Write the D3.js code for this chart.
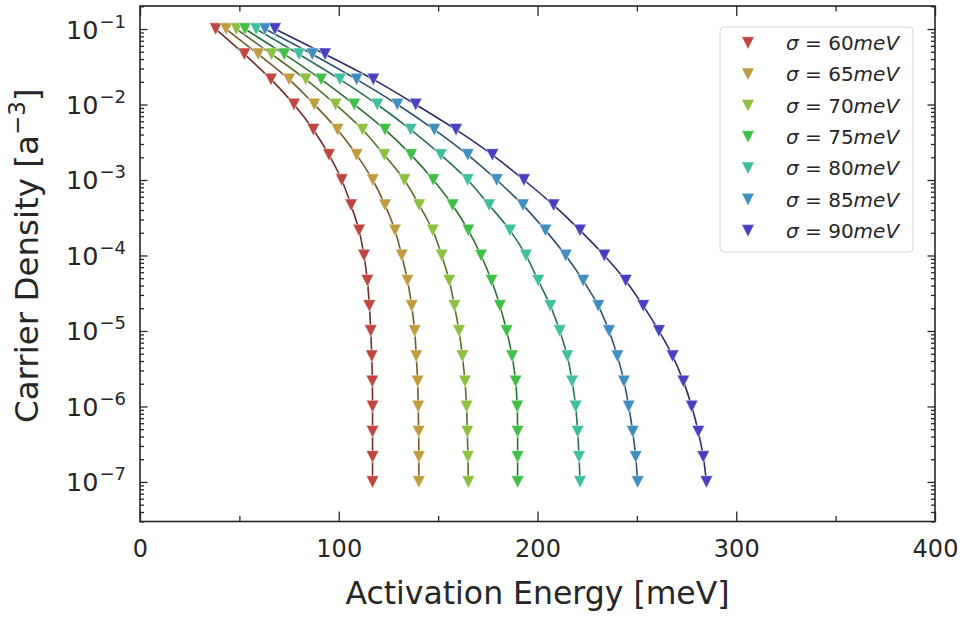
<!DOCTYPE html>
<html>
<head>
<meta charset="utf-8">
<script src="https://cdn.jsdelivr.net/npm/d3@7"></script>
<style>
  html, body { margin: 0; padding: 0; background: #fff; }
  svg { display: block; }
  text { font-family: "DejaVu Sans", sans-serif; fill: #262626; }
</style>
</head>
<body>
<svg id="chart" width="963" height="617"></svg>
<script>
// ---- data ----
const sigmas = [60, 65, 70, 75, 80, 85, 90];
const density = [1e-1, 4.64e-2, 2.15e-2, 1e-2, 4.64e-3, 2.15e-3, 1e-3, 4.64e-4, 2.15e-4,
                 1e-4, 4.64e-5, 2.15e-5, 1e-5, 4.64e-6, 2.15e-6, 1e-6, 4.64e-7, 2.15e-7, 1e-7];
const energy60 = [38.1, 52.5, 65.9, 77.5, 87.2, 95.1, 101.5, 106.2, 110.2, 112.7, 114.4, 115.4, 116.1, 116.6, 116.9, 117.0, 117.0, 117.0, 117.0];
const energy65 = [43.3, 59.5, 75.0, 87.7, 99.4, 109.0, 117.1, 123.3, 128.3, 131.7, 134.6, 136.7, 138.2, 139.0, 139.7, 140.0, 140.2, 140.3, 140.3];
const energy70 = [48.5, 66.2, 83.4, 98.4, 112.0, 122.9, 133.0, 140.5, 147.3, 151.8, 155.6, 158.2, 160.5, 162.2, 163.5, 164.3, 164.7, 165.0, 165.2];
const energy75 = [52.8, 72.6, 91.1, 107.8, 123.3, 136.4, 147.6, 157.3, 165.2, 171.6, 176.9, 181.1, 184.5, 187.2, 189.0, 189.8, 190.0, 190.0, 190.0];
const energy80 = [58.4, 80.0, 100.6, 119.4, 136.2, 151.4, 164.9, 175.7, 186.2, 194.2, 200.4, 206.5, 211.2, 215.0, 217.4, 219.2, 220.2, 220.9, 221.4];
const energy85 = [62.9, 86.7, 109.0, 129.5, 148.1, 164.9, 179.5, 192.7, 204.0, 214.2, 223.0, 230.6, 236.0, 240.2, 243.5, 245.9, 247.9, 249.4, 250.4];
const energy90 = [67.9, 93.1, 117.4, 138.7, 159.0, 177.3, 193.2, 208.1, 221.4, 233.6, 244.4, 253.2, 261.1, 268.0, 273.4, 277.6, 280.9, 283.4, 285.0];
const energies = [energy60, energy65, energy70, energy75, energy80, energy85, energy90];
const markerColors = ["#bf4640", "#bf9c40", "#8dbf40", "#40bf48", "#40bf9c", "#408dbf", "#4840bf"];
const xTicks = [0, 100, 200, 300, 400];
const xMinorTicks = [50, 150, 250, 350];
const yTickExps = [-1, -2, -3, -4, -5, -6, -7];

// ---- layout ----
const L = 140, R = 935, T = 6, B = 521.5;
const svg = d3.select("#chart");

const x = d3.scaleLinear().domain([0, 400]).range([L, R]);
const y = d3.scaleLog().domain([Math.pow(10, -7.524), Math.pow(10, -0.695)]).range([B, T]);

// minor y ticks
const yMinor = [];
for (let e = -8; e <= 0; e++) {
  for (let m = 2; m <= 9; m++) {
    const v = m * Math.pow(10, e);
    if (v >= y.domain()[0] && v <= y.domain()[1]) yMinor.push(v);
  }
}
const yMajor = yTickExps.map(e => Math.pow(10, e));

const axisColor = "#262626";
const triPath = "M0,6.2L-6.3,-6.2L6.3,-6.2Z";

// clip for lines/markers
svg.append("defs").append("clipPath").attr("id", "clip")
  .append("rect").attr("x", L).attr("y", T).attr("width", R - L).attr("height", B - T);

// ---- series ----
const line = d3.line()
  .x(d => x(d[0]))
  .y(d => y(d[1]))
  .curve(d3.curveCatmullRom.alpha(0.5));

const plot = svg.append("g").attr("clip-path", "url(#clip)");

sigmas.forEach((s, i) => {
  const pts = energies[i].map((e, k) => [e, density[k]]);
  const base = d3.hsl(markerColors[i]);
  const dark = d3.hsl(base.h, 0.45, 0.3);
  plot.append("path")
    .attr("d", line(pts))
    .attr("fill", "none")
    .attr("stroke", dark.formatHex())
    .attr("stroke-width", 1.6);
});
sigmas.forEach((s, i) => {
  const pts = energies[i].map((e, k) => [e, density[k]]);
  plot.append("g").selectAll("path").data(pts).join("path")
    .attr("d", triPath)
    .attr("transform", d => `translate(${x(d[0])},${y(d[1])})`)
    .attr("fill", markerColors[i])
    .attr("stroke", "#ffffff")
    .attr("stroke-width", 0.5);
});

// ---- axes (ticks inward on all sides) ----
const axes = svg.append("g");
const xb = d3.axisBottom(x).tickValues(xTicks).tickSizeInner(-10).tickSizeOuter(0).tickPadding(18)
  .tickFormat(d3.format("d"));
axes.append("g").attr("transform", `translate(0,${B})`).call(xb)
  .call(g => g.select(".domain").remove())
  .call(g => g.selectAll("text").attr("font-size", 24).attr("fill", axisColor).attr("font-family", "DejaVu Sans"));
axes.append("g").attr("transform", `translate(0,${B})`)
  .call(d3.axisBottom(x).tickValues(xMinorTicks).tickSizeInner(-5.5).tickSizeOuter(0).tickFormat(""))
  .call(g => g.select(".domain").remove());
axes.append("g").attr("transform", `translate(0,${T})`)
  .call(d3.axisTop(x).tickValues(xTicks).tickSizeInner(-10).tickSizeOuter(0).tickFormat(""))
  .call(g => g.select(".domain").remove());
axes.append("g").attr("transform", `translate(0,${T})`)
  .call(d3.axisTop(x).tickValues(xMinorTicks).tickSizeInner(-5.5).tickSizeOuter(0).tickFormat(""))
  .call(g => g.select(".domain").remove());
axes.append("g").attr("transform", `translate(${L},0)`)
  .call(d3.axisLeft(y).tickValues(yMajor).tickSizeInner(-7.5).tickSizeOuter(0).tickFormat(""))
  .call(g => g.select(".domain").remove());
axes.append("g").attr("transform", `translate(${L},0)`)
  .call(d3.axisLeft(y).tickValues(yMinor).tickSizeInner(-4).tickSizeOuter(0).tickFormat(""))
  .call(g => g.select(".domain").remove());
axes.append("g").attr("transform", `translate(${R},0)`)
  .call(d3.axisRight(y).tickValues(yMajor).tickSizeInner(-7.5).tickSizeOuter(0).tickFormat(""))
  .call(g => g.select(".domain").remove());
axes.append("g").attr("transform", `translate(${R},0)`)
  .call(d3.axisRight(y).tickValues(yMinor).tickSizeInner(-4).tickSizeOuter(0).tickFormat(""))
  .call(g => g.select(".domain").remove());
axes.selectAll(".tick line").attr("stroke", axisColor).attr("stroke-width", 1.3);

// y tick labels with superscript
const ylab = svg.append("g");
yTickExps.forEach(e => {
  const t = ylab.append("text")
    .attr("x", 126).attr("y", y(Math.pow(10, e)) + 9.5)
    .attr("text-anchor", "end")
    .attr("font-size", 25.5);
  t.append("tspan").text("10");
  t.append("tspan").attr("dx", 1).attr("dy", -11).attr("font-size", 18).text("\u2212" + Math.abs(e));
});

// frame
svg.append("rect").attr("x", L).attr("y", T).attr("width", R - L).attr("height", B - T)
  .attr("fill", "none").attr("stroke", axisColor).attr("stroke-width", 1.6);

// axis titles
svg.append("text")
  .attr("x", (L + R) / 2).attr("y", 604)
  .attr("text-anchor", "middle").attr("font-size", 31.5)
  .text("Activation Energy [meV]");
const yt = svg.append("text")
  .attr("transform", `translate(38,${(T + B) / 2 - 8}) rotate(-90)`)
  .attr("text-anchor", "middle").attr("font-size", 32.5);
yt.append("tspan").text("Carrier Density [a");
yt.append("tspan").attr("dy", -13).attr("font-size", 23).text("\u22123");
yt.append("tspan").attr("dy", 13).text("]");

// ---- legend ----
const lg = svg.append("g");
lg.append("rect").attr("x", 720).attr("y", 27).attr("width", 193).attr("height", 225)
  .attr("rx", 4).attr("fill", "#ffffff").attr("fill-opacity", 0.85)
  .attr("stroke", "#d6d6d6").attr("stroke-width", 1);
sigmas.forEach((s, i) => {
  const cy = 43 + i * 31.3;
  lg.append("path").attr("d", triPath)
    .attr("transform", `translate(748,${cy})`)
    .attr("fill", markerColors[i]).attr("stroke", "#fff").attr("stroke-width", 0.5);
  const t = lg.append("text").attr("x", 786).attr("y", cy + 7).attr("font-size", 20);
  t.append("tspan").attr("font-style", "italic").text("\u03c3");
  t.append("tspan").text(" = " + s);
  t.append("tspan").attr("font-style", "italic").text("meV");
});
</script>
</body>
</html>
